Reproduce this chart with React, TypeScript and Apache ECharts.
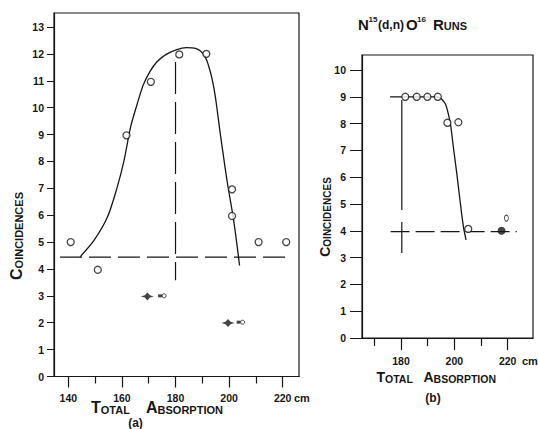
import React, { useEffect, useRef } from "react";
import * as echarts from "echarts";

// ---------- data ----------
// Panel (a)
const leftCurve: number[][] = [
  [144.4, 4.45], [149.7, 5.08], [154.6, 5.93], [158.3, 7.06], [160.8, 8.04],
  [163.3, 9.3], [165.6, 10.1], [168.0, 10.85], [170.5, 11.35], [173.0, 11.7],
  [176.5, 11.98], [180.5, 12.16], [184.0, 12.23], [187.5, 12.2], [191.0, 11.9],
  [193.2, 11.25], [194.8, 10.45], [196.7, 9.04], [199.2, 7.3], [201.7, 5.81],
  [203.9, 4.13],
];
const leftOpen: number[][] = [
  [140.9, 5.0], [151.0, 3.97], [161.7, 8.97], [170.8, 10.96], [181.4, 11.98],
  [191.5, 12.0], [201.1, 6.96], [201.1, 5.97], [211.0, 5.0], [221.3, 5.0],
];
const leftFilled: number[][] = [[169.5, 2.98], [199.6, 1.99]];
const leftSmall: number[][] = [[175.0, 3.0], [204.3, 2.02]];
const leftBackground: number[][] = [[136.9, 4.44], [222.8, 4.44]];
const leftMid: number[][] = [[180.0, 11.7], [180.0, 3.58]];
const leftXMajor = [140, 160, 180, 200, 220];
const leftXMinor = [150, 170, 190, 210];
const leftYTicks = [0, 1, 2, 3, 4, 5, 6, 7, 8, 9, 10, 11, 12, 13];

// Panel (b)
const rightCurve: number[][] = [
  [175.9, 9.0], [181.6, 9.0], [185.9, 9.0], [189.9, 9.0], [193.8, 9.0],
  [196.5, 8.76], [197.7, 8.38], [198.7, 7.88], [199.6, 7.14], [200.9, 6.15],
  [202.1, 5.15], [203.4, 4.15], [204.4, 3.66],
];
const rightOpen: number[][] = [
  [181.6, 9.0], [185.9, 9.0], [189.9, 9.0], [193.8, 9.0], [197.4, 8.03],
  [201.5, 8.05], [205.2, 4.07],
];
const rightFilled: number[][] = [[217.7, 4.0]];
const rightSmall: number[][] = [[219.5, 4.4]];
const rightBackground: number[][] = [[176.1, 3.97], [223.4, 3.97]];
const rightMid: number[][] = [[180.3, 8.88], [180.3, 3.17]];
const rightXMajor = [180, 200, 220];
const rightXMinor = [170, 190, 210];
const rightYTicks = [0, 1, 2, 3, 4, 5, 6, 7, 8, 9, 10];

// ---------- styling ----------
const FONT = '"Liberation Sans", Arial, sans-serif';
const INK = "#161616";

const mkX = (grid: number, min: number, max: number, ticks: number[], labels: number[], len: number, margin: number, main: boolean) => ({
  type: "value",
  gridIndex: grid,
  min,
  max,
  position: "bottom",
  axisLine: { show: main, lineStyle: { color: INK, width: 1.2 } },
  axisTick: { show: true, inside: false, length: len, customValues: ticks, lineStyle: { color: INK, width: 1.2 } },
  axisLabel: {
    show: main,
    customValues: labels,
    margin,
    color: INK,
    fontFamily: FONT,
    fontSize: 10.5,
    fontWeight: "bold",
  },
  splitLine: { show: false },
});

const mkY = (grid: number, max: number, ticks: number[], len: number, margin: number) => ({
  type: "value",
  gridIndex: grid,
  min: 0,
  max,
  axisLine: { show: true, lineStyle: { color: INK, width: 1.2 } },
  axisTick: { show: true, length: len, customValues: ticks, lineStyle: { color: INK, width: 1 } },
  axisLabel: {
    customValues: ticks,
    margin,
    color: INK,
    fontFamily: FONT,
    fontSize: 10.5,
    fontWeight: "bold",
  },
  splitLine: { show: false },
});

const lineS = (xi: number, yi: number, data: number[][], type: any, width = 1.3, smooth: any = false) => ({
  type: "line",
  xAxisIndex: xi,
  yAxisIndex: yi,
  data,
  smooth,
  showSymbol: false,
  symbol: "none",
  lineStyle: { color: INK, width, type },
  silent: true,
  z: 2,
});

const openS = (xi: number, yi: number, data: number[][], size = 7) => ({
  type: "scatter",
  xAxisIndex: xi,
  yAxisIndex: yi,
  data,
  symbol: "circle",
  symbolSize: size,
  itemStyle: { color: "#ffffff", borderColor: INK, borderWidth: 1.3 },
  z: 5,
});

const rich = (big: number, small: number) => ({
  b: { fontSize: big, fontFamily: FONT, fill: INK, fontWeight: "bold", lineHeight: big, verticalAlign: "bottom" },
  s: { fontSize: small, fontFamily: FONT, fill: INK, fontWeight: "bold", lineHeight: big, verticalAlign: "bottom" },
});

const scText = (x: number, y: number, first: string, rest: string, big: number, small: number, extra: any = {}) => ({
  type: "text",
  x,
  y,
  ...extra,
  style: {
    text: `{b|${first}}{s|${rest}}`,
    rich: rich(big, small),
    align: extra.align || "left",
    verticalAlign: extra.verticalAlign || "bottom",
  },
});

const plain = (x: number, y: number, text: string, size: number, align = "left", weight = "bold") => ({
  type: "text",
  x,
  y,
  style: { text, fontSize: size, fontFamily: FONT, fontWeight: weight, fill: INK, align, verticalAlign: "bottom" },
});

export default function App() {
  const ref = useRef<HTMLDivElement>(null);
  useEffect(() => {
    if (!ref.current) return;
    const chart = echarts.init(ref.current, undefined, { renderer: "svg" });
    const option: any = {
      animation: false,
      backgroundColor: "#ffffff",
      grid: [
        { left: 54, top: 13, width: 245, height: 363.5, show: true, borderColor: INK, borderWidth: 1.2 },
        { left: 362, top: 55, width: 171, height: 283, show: true, borderColor: INK, borderWidth: 1.2 },
      ],
      xAxis: [
        mkX(0, 134.66, 226.08, leftXMajor, leftXMajor, 11, 16, true),
        mkX(0, 134.66, 226.08, leftXMinor, [], 7, 16, false),
        mkX(1, 165.38, 229.48, rightXMajor, rightXMajor, 12, 17, true),
        mkX(1, 165.38, 229.48, rightXMinor, [], 8, 17, false),
      ],
      yAxis: [mkY(0, 13.52, leftYTicks, 7, 10), mkY(1, 10.56, rightYTicks, 12, 16)],
      series: [
        // panel (a)
        lineS(0, 0, leftCurve, "solid", 1.3, 0.3),
        lineS(0, 0, leftBackground, [22, 7], 1.2),
        lineS(0, 0, leftMid, [32, 8], 1.2),
        openS(0, 0, leftOpen, 7),
        {
          type: "scatter", xAxisIndex: 0, yAxisIndex: 0, data: leftFilled,
          symbol: "path://M0,4 L3,3 L5,0.5 L7,3 L10,4 L7,5 L5,7.5 L3,5 Z",
          symbolSize: [13, 8], itemStyle: { color: INK }, z: 5,
        },
        {
          type: "scatter", xAxisIndex: 0, yAxisIndex: 0, data: leftSmall,
          symbol: "rect", symbolSize: [4, 3], symbolOffset: [-2, 0], itemStyle: { color: INK }, z: 5,
        },
        {
          type: "scatter", xAxisIndex: 0, yAxisIndex: 0, data: leftSmall,
          symbol: "circle", symbolSize: 4, symbolOffset: [2, 0],
          itemStyle: { color: "#fff", borderColor: INK, borderWidth: 1 }, z: 5,
        },
        // panel (b)
        lineS(2, 1, rightCurve, "solid", 1.3, 0.25),
        lineS(2, 1, rightBackground, [19, 6], 1.2),
        lineS(2, 1, rightMid, [110, 12], 1.2),
        openS(2, 1, rightOpen, 7),
        {
          type: "scatter", xAxisIndex: 2, yAxisIndex: 1, data: rightFilled,
          symbol: "circle", symbolSize: 8, itemStyle: { color: INK }, z: 5,
        },
        {
          type: "scatter", xAxisIndex: 2, yAxisIndex: 1, data: rightSmall,
          symbol: "circle", symbolSize: [4, 6], symbolOffset: [0, -2],
          itemStyle: { color: "#fff", borderColor: INK, borderWidth: 1 }, z: 5,
        },
      ],
      graphic: [
        // axis titles, panel (a)
        scText(16, 236, "C", "OINCIDENCES", 16, 11, { rotation: Math.PI / 2, align: "center", verticalAlign: "middle" }),
        scText(91, 415, "T", "OTAL", 16, 11),
        scText(146, 415, "A", "BSORPTION", 16, 11),
        plain(135.5, 429, "(a)", 12, "center"),
        plain(294, 403, "cm", 11, "left"),
        // axis titles, panel (b)
        scText(325, 217, "C", "OINCIDENCES", 14, 10, { rotation: Math.PI / 2, align: "center", verticalAlign: "middle" }),
        scText(376.5, 384, "T", "OTAL", 14, 10.5),
        scText(423.5, 384, "A", "BSORPTION", 14, 10.5),
        plain(433, 404, "(b)", 12, "center"),
        plain(522, 366.5, "cm", 11, "left"),
        // title
        plain(358, 31.5, "N", 15),
        plain(368.5, 23, "15", 8),
        plain(378, 30.5, "(d,n)", 12),
        plain(406, 31.5, "O", 15),
        plain(417, 23, "16", 8),
        scText(433, 31.5, "R", "UNS", 15, 11),
      ],
    };
    chart.setOption(option);
    return () => chart.dispose();
  }, []);
  return (
    <div
      ref={ref}
      style={{ position: "absolute", left: 0, top: 0, width: 538, height: 429, background: "#fff" }}
    />
  );
}
